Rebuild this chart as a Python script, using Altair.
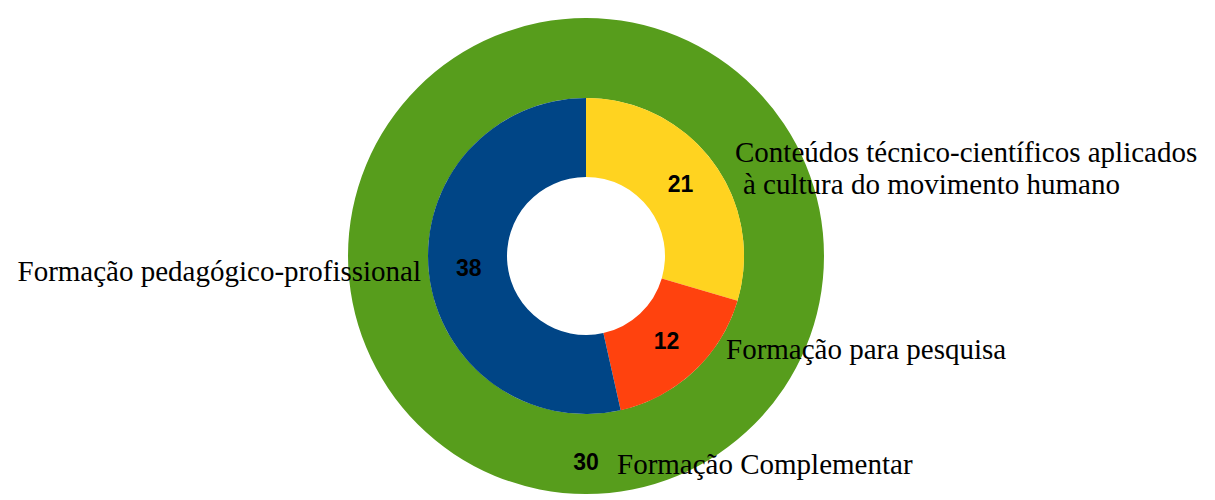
import altair as alt
import pandas as pd

# Inner ring
inner_labels = [
    "Conteúdos técnico-científicos aplicados à cultura do movimento humano",
    "Formação para pesquisa",
    "Formação pedagógico-profissional",
]
inner_values = [21, 12, 38]
inner_colors = ["#FFD320", "#FF420E", "#004586"]
inner_order = [0, 1, 2]

# Outer ring
outer_labels = ["Formação Complementar"]
outer_values = [30]
outer_colors = ["#579D1C"]
outer_order = [0]

inner = pd.DataFrame({"cat": inner_labels, "value": inner_values,
                      "color": inner_colors, "order": inner_order})
outer = pd.DataFrame({"cat": outer_labels, "value": outer_values,
                      "color": outer_colors, "order": outer_order})

CX, CY = 578, 248
R_OUT, R_MID, R_HOLE = 238, 158, 79

def ring(df, r0, r1, label_r):
    base = alt.Chart(df).encode(
        theta=alt.Theta("value:Q", stack=True),
        order=alt.Order("order:Q"),
        x=alt.value(CX),
        y=alt.value(CY),
    )
    arc = base.mark_arc(innerRadius=r0, outerRadius=r1).encode(
        color=alt.Color("color:N", scale=None)
    )
    txt = base.mark_text(radius=label_r, font="Liberation Sans, Arial, sans-serif",
                         fontWeight="bold", fontSize=23, color="#000000").encode(text="value:Q")
    return arc, txt

outer_arc, outer_txt = ring(outer, R_MID, R_OUT, 207)
inner_arc, inner_txt = ring(inner, R_HOLE, R_MID, 118)

SERIF = "Liberation Serif, Times New Roman, DejaVu Serif, serif"

def label(text, x, y, align="left"):
    return alt.Chart(pd.DataFrame({"t": [text]})).mark_text(
        font=SERIF, fontSize=29, color="#000000",
        align=align, baseline="alphabetic"
    ).encode(text="t:N", x=alt.value(x), y=alt.value(y))

labels = [
    label("Conteúdos técnico-científicos aplicados", 727, 154),
    label("à cultura do movimento humano", 735, 186),
    label("Formação pedagógico-profissional", 413, 273, align="right"),
    label("Formação para pesquisa", 718, 351),
    label("Formação Complementar", 609, 466),
]

chart = alt.layer(
    outer_arc, inner_arc, outer_txt, inner_txt, *labels
).resolve_scale(theta="independent").properties(
    width=1199, height=492, padding=0, autosize="none"
).configure_view(stroke=None)

chart.save("out.html", embed_options={"renderer": "svg", "actions": False})
